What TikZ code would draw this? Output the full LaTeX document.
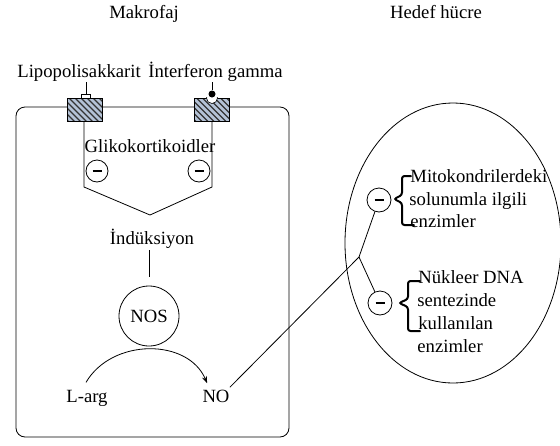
\documentclass[tikz,border=0pt]{standalone}
\usepackage{fontspec}
\setmainfont{Liberation Serif}
\usetikzlibrary{shapes.geometric,arrows.meta,calc}
\definecolor{recfill}{HTML}{B4C2D6}
\begin{document}
\begin{tikzpicture}[x=1pt,y=-1pt,line width=0.8pt,
  txt/.style={font=\fontsize{18.67}{22.5}\selectfont, inner sep=0pt},
  minus/.style={circle, draw, fill=white, minimum size=22pt, inner sep=0pt,
    path picture={\draw[line width=2.6pt] ([xshift=-4.5pt]path picture bounding box.center) -- ([xshift=4.5pt]path picture bounding box.center);}},
  receptor/.style={draw=black, fill=recfill, minimum width=35pt, minimum height=23pt, inner sep=0pt,
    path picture={\foreach \i in {-28,-22,...,40}{\draw[line width=1.4pt, black!80] ([xshift=\i pt]path picture bounding box.north west) -- ++(25pt,-25pt);}}},
  bracepath/.style={line width=2pt, rounded corners=2.5pt, line cap=round}
]
\useasboundingbox (0,0) rectangle (560,445);

% titles
\node[txt, anchor=base] (makro) at (144,18) {Makrofaj};
\node[txt, anchor=base] (hedef) at (436,18) {Hedef hücre};

% ligands
\node[txt, anchor=base west] (lps) at (17,77) {Lipopolisakkarit};
\node[txt, anchor=base west] (ifn) at (148,77) {İnterferon gamma};

% macrophage cell
\node[draw, rounded corners=9pt, minimum width=273pt, minimum height=330pt, inner sep=0pt] (mac) at (152.5,272) {};

% receptors
\node[receptor] (r1) at (84.5,109.5) {};
\node[receptor] (r2) at (212,109.5) {};
\node[draw, fill=white, line width=1.2pt, minimum width=9pt, minimum height=4pt, inner sep=0pt] (cap1) at (86,96.5) {};
\coordinate (lp) at (86,82);
\draw (cap1.north) -- (lp);
\begin{scope}
  \clip (r2.north west) rectangle (r2.south east);
  \node[circle, draw, line width=0.6pt, fill=white, minimum size=11pt, inner sep=0pt] (notch) at (212,98) {};
\end{scope}
\node[circle, fill=black, minimum size=7pt, inner sep=0pt] (dot) at (212,94) {};
\coordinate (ip) at (212,82);
\draw (dot.north) -- (ip);

% V lines
\coordinate (v1) at (84,187);
\coordinate (v2) at (212,187);
\coordinate (apex) at (150,215);
\draw (r1.south -| v1) -- (v1) -- (apex) -- (v2) -- (r2.south -| v2);

\node[txt, anchor=base] (gliko) at (150,152) {Glikokortikoidler};
\node[minus] (m1) at (97,171) {};
\node[minus] (m2) at (199,171) {};

\node[txt, anchor=base] (ind) at (152,244) {İndüksiyon};
\node[txt, circle, draw, minimum size=60pt, inner sep=0pt] (nos) at (149,316) {NOS};
\draw ($(ind.south -| nos.north)+(0,2)$) -- ($(nos.north)+(0,-9)$);

\node[txt, anchor=base] (larg) at (87,402) {L-arg};
\node[txt, anchor=base] (no) at (216,402) {NO};
\draw[-{Stealth[length=7pt,width=5pt]}] ($(larg.north)+(-1,-7)$) .. controls (112,338) and (188,338) .. ($(no.north west)+(5,-6)$);

% target cell
\node[ellipse, draw, minimum width=216pt, minimum height=280pt, inner sep=0pt] (hc) at (453,243) {};
\coordinate (br) at (359,257);
\draw ($(no.north east)+(0,-2)$) -- (br);
\node[minus, minimum size=24pt] (m3) at (379,200) {};
\node[minus, minimum size=24pt] (m4) at (380,303) {};
\draw (br) -- (m3);
\draw (br) -- (m4);

\draw[bracepath] (411,176) -- (402,176) -- (402,195) -- (394,199) -- (402,203) -- (402,225) -- (414,225);
\draw[bracepath] (420,281) -- (408,281) -- (408,299) -- (399,303) -- (408,307) -- (408,331) -- (420,331);

\node[txt, anchor=base west] (mito1) at (410,182) {Mitokondrilerdeki};
\node[txt, anchor=base west] (mito2) at (409,205) {solunumla ilgili};
\node[txt, anchor=base west] (mito3) at (410,227) {enzimler};
\node[txt, anchor=base west] (dna1) at (418,283) {Nükleer DNA};
\node[txt, anchor=base west] (dna2) at (417,306) {sentezinde};
\node[txt, anchor=base west] (dna3) at (418,329) {kullanılan};
\node[txt, anchor=base west] (dna4) at (417,352) {enzimler};
\end{tikzpicture}
\end{document}
